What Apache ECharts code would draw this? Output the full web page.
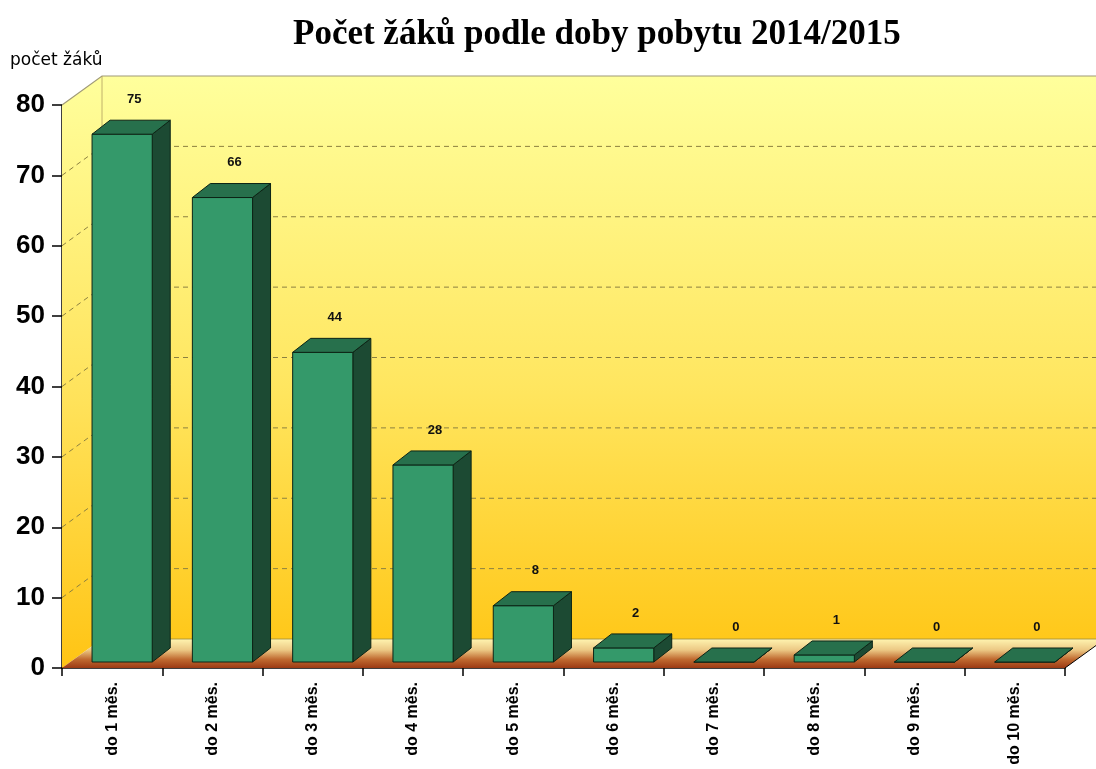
<!DOCTYPE html>
<html>
<head>
<meta charset="utf-8">
<script src="https://cdn.jsdelivr.net/npm/echarts@6/dist/echarts.min.js"></script>
<style>
  html, body { margin: 0; padding: 0; background: #fff; }
  #main { width: 1096px; height: 769px; }
</style>
</head>
<body>
<div id="main"></div>
<script>
    // data
    const categories = ['do 1 měs.', 'do 2 měs.', 'do 3 měs.', 'do 4 měs.', 'do 5 měs.',
        'do 6 měs.', 'do 7 měs.', 'do 8 měs.', 'do 9 měs.', 'do 10 měs.'];
    const pupils = [75, 66, 44, 28, 8, 2, 0, 1, 0, 0];
    const yTicks = [0, 10, 20, 30, 40, 50, 60, 70, 80];

    // depth of the walls and of the boxes (pixels)
    const WALL_DX = 40, WALL_DY = -29;
    const BAR_OX = 10, BAR_OY = -6, BAR_DX = 18, BAR_DY = -14;

    const myChart = echarts.init(document.getElementById('main'));

    function renderWalls(params, api) {
        const cs = params.coordSys;
        const x0 = cs.x, x1 = cs.x + cs.width;
        const top = api.coord([0, 80])[1], bottom = api.coord([0, 0])[1];
        const children = [];
        // back wall
        children.push({
            type: 'polygon',
            shape: {points: [[x0 + WALL_DX, top + WALL_DY], [x1 + WALL_DX + 20, top + WALL_DY],
                [x1 + WALL_DX + 20, bottom + WALL_DY], [x0 + WALL_DX, bottom + WALL_DY]]},
            style: {
                fill: new echarts.graphic.LinearGradient(0, 0, 0, 1, [
                    {offset: 0, color: '#ffff9c'},
                    {offset: 0.55, color: '#ffe660'},
                    {offset: 1, color: '#ffc81a'}
                ])
            }
        });
        // left wall
        children.push({
            type: 'polygon',
            shape: {points: [[x0, top], [x0 + WALL_DX, top + WALL_DY],
                [x0 + WALL_DX, bottom + WALL_DY], [x0, bottom]]},
            style: {
                fill: new echarts.graphic.LinearGradient(0, 0, 0, 1, [
                    {offset: 0, color: '#ffff9c'},
                    {offset: 0.55, color: '#ffe25a'},
                    {offset: 1, color: '#ffc414'}
                ])
            }
        });
        // floor
        children.push({
            type: 'polygon',
            shape: {points: [[x0, bottom], [x1, bottom],
                [x1 + WALL_DX, bottom + WALL_DY], [x0 + WALL_DX, bottom + WALL_DY]]},
            style: {
                fill: new echarts.graphic.LinearGradient(0, 1, 0, 0, [
                    {offset: 0, color: '#9c3a14'},
                    {offset: 0.3, color: '#c06a30'},
                    {offset: 0.62, color: '#ecc884'},
                    {offset: 1, color: '#fff4b0'}
                ])
            }
        });
        // dashed grid lines on the back and left walls
        yTicks.forEach(function (t) {
            if (t === 0 || t === 80) return;
            const y = api.coord([0, t])[1];
            children.push({
                type: 'line',
                shape: {x1: x0 + WALL_DX, y1: y + WALL_DY, x2: x1 + WALL_DX + 20, y2: y + WALL_DY},
                style: {stroke: '#8c8040', lineWidth: 1, lineDash: [5, 4]}
            });
            children.push({
                type: 'line',
                shape: {x1: x0, y1: y, x2: x0 + WALL_DX, y2: y + WALL_DY},
                style: {stroke: '#8c8040', lineWidth: 1, lineDash: [5, 4]}
            });
        });
        // wall outlines
        children.push({
            type: 'polyline',
            shape: {points: [[x0, top], [x0 + WALL_DX, top + WALL_DY], [x1 + WALL_DX + 20, top + WALL_DY]]},
            style: {stroke: '#a09a78', lineWidth: 1.2, fill: null}
        });
        children.push({
            type: 'line',
            shape: {x1: x0 + WALL_DX, y1: top + WALL_DY, x2: x0 + WALL_DX, y2: bottom + WALL_DY},
            style: {stroke: '#b0a060', lineWidth: 0.8}
        });
        children.push({
            type: 'line',
            shape: {x1: x0 + WALL_DX, y1: bottom + WALL_DY, x2: x1 + WALL_DX + 20, y2: bottom + WALL_DY},
            style: {stroke: '#9c8a3c', lineWidth: 0.8}
        });
        children.push({
            type: 'line',
            shape: {x1: x1, y1: bottom, x2: x1 + WALL_DX, y2: bottom + WALL_DY},
            style: {stroke: '#000', lineWidth: 1}
        });
        return {type: 'group', children: children};
    }

    function renderBar(params, api) {
        const i = api.value(0), v = api.value(1);
        const base = api.coord([i, 0]), tp = api.coord([i, v]);
        const bw = api.size([1, 0])[0] * 0.6;
        const fx = base[0] - bw / 2 + BAR_OX;
        const by = base[1] + BAR_OY, ty = tp[1] + BAR_OY;
        const edge = '#0c2416';
        return {
            type: 'group',
            children: [
                {
                    type: 'polygon',
                    shape: {points: [[fx + bw, ty], [fx + bw + BAR_DX, ty + BAR_DY],
                        [fx + bw + BAR_DX, by + BAR_DY], [fx + bw, by]]},
                    style: {fill: '#1c4a33', stroke: edge, lineWidth: 1}
                },
                {
                    type: 'rect',
                    shape: {x: fx, y: ty, width: bw, height: by - ty},
                    style: {fill: '#34996a', stroke: edge, lineWidth: 1}
                },
                {
                    type: 'polygon',
                    shape: {points: [[fx, ty], [fx + bw, ty], [fx + bw + BAR_DX, ty + BAR_DY], [fx + BAR_DX, ty + BAR_DY]]},
                    style: {fill: '#27704c', stroke: edge, lineWidth: 1}
                },
                {
                    type: 'text',
                    style: {
                        x: fx + bw / 2 + 12, y: ty + BAR_DY - 21,
                        text: String(v),
                        align: 'center', verticalAlign: 'middle',
                        font: 'bold 13px "Liberation Sans Narrow", "Liberation Sans", Arial, sans-serif',
                        fill: '#111'
                    }
                }
            ]
        };
    }

    const option = {
        backgroundColor: '#ffffff',
        animation: false,
        title: {
            text: 'Počet žáků podle doby pobytu 2014/2015',
            left: 288,
            top: 12,
            textStyle: {
                fontFamily: '"Liberation Serif", "DejaVu Serif", serif',
                fontWeight: 'bold',
                fontSize: 35,
                color: '#000'
            }
        },
        grid: {left: 62, right: 31, top: 105, bottom: 101},
        xAxis: {
            type: 'category',
            data: categories,
            axisLine: {lineStyle: {color: '#000', width: 1.5}},
            axisTick: {show: true, length: 8, lineStyle: {color: '#000', width: 1.5}},
            axisLabel: {
                rotate: 90,
                margin: 14,
                color: '#000',
                fontFamily: '"Liberation Sans", Arial, sans-serif',
                fontWeight: 'bold',
                fontSize: 16
            },
            splitLine: {show: false}
        },
        yAxis: {
            type: 'value',
            min: 0,
            max: 80,
            interval: 10,
            name: 'počet žáků',
            nameLocation: 'end',
            nameGap: 36,
            nameTextStyle: {
                align: 'left',
                padding: [0, 0, 0, -52],
                color: '#000',
                fontFamily: '"DejaVu Sans", sans-serif',
                fontSize: 17
            },
            axisLine: {show: true, lineStyle: {color: '#000', width: 1.5}},
            axisTick: {show: true, length: 10, lineStyle: {color: '#000', width: 1.5}},
            axisLabel: {
                margin: 17,
                color: '#000',
                fontFamily: '"Liberation Sans", Arial, sans-serif',
                fontWeight: 'bold',
                fontSize: 26
            },
            splitLine: {show: false}
        },
        series: [
            {
                type: 'custom',
                name: 'walls',
                clip: false,
                z: 1,
                silent: true,
                renderItem: renderWalls,
                data: [[0, 0]]
            },
            {
                type: 'custom',
                name: 'počet žáků',
                clip: false,
                z: 5,
                renderItem: renderBar,
                data: pupils.map(function (v, i) { return [i, v]; })
            }
        ]
    };
    myChart.setOption(option);
</script>
</body>
</html>
